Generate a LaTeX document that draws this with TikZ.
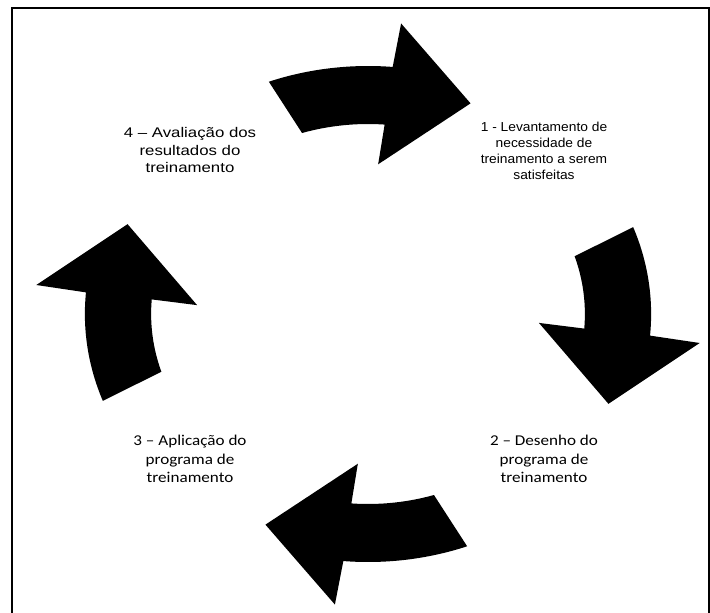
\documentclass[tikz,border=0pt]{standalone}
\usepackage{fontspec}
\newfontfamily\widesans[FakeStretch=1.2]{Liberation Sans}
\newfontfamily\narrowsans[FakeStretch=1.06]{Liberation Sans}
\newfontfamily\bodysans[FakeStretch=1.14]{Carlito}
\usetikzlibrary{calc}

\begin{document}
\begin{tikzpicture}[x=1pt,y=-1pt]
  \useasboundingbox (0,0) rectangle (710,613);
  \draw[line width=2pt] (12,613) -- (12,8) -- (709,8) -- (709,613);

  \coordinate (C) at (368,314);

  \begin{scope}[shift={(C)},xscale=1.1416,yscale=-1]
    \foreach \turn in {0,-90,-180,-270}
      \path[fill=black,rotate=\turn] (110.5:248) arc[start angle=110.5,end angle=85,radius=248]
        -- (84.3:292) -- (66.9:229) -- (86.6:150) -- (85.6:190)
        arc[start angle=85.6,end angle=107.7,radius=190] -- cycle;
  \end{scope}

  \node[font={\narrowsans\fontsize{13}{16}\selectfont},align=center] (levantamento) at (544,151) {1 - Levantamento de\\necessidade de\\treinamento a serem\\satisfeitas};
  \node[font={\bodysans\fontsize{15}{18.5}\selectfont},align=center] (desenho) at (544,459) {2 – Desenho do\\programa de\\treinamento};
  \node[font={\bodysans\fontsize{15}{18.5}\selectfont},align=center] (aplicacao) at (190,459) {3 – Aplicação do\\programa de\\treinamento};
  \node[font={\widesans\fontsize{14}{17.5}\selectfont},align=center] (avaliacao) at (190,150) {4 – Avaliação dos\\resultados do\\treinamento};
\end{tikzpicture}
\end{document}
